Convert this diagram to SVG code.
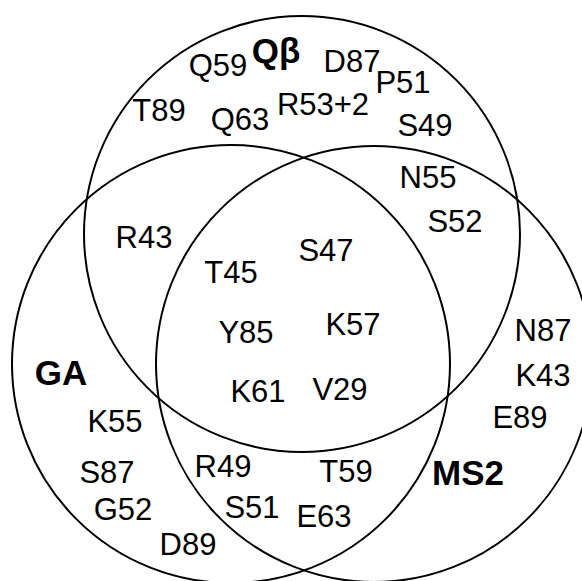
<svg xmlns="http://www.w3.org/2000/svg" width="582" height="581" viewBox="0 0 582 581">
<style>
.c{fill:none;stroke:#000;stroke-width:2}
.t{font-family:"Liberation Sans",Arial,sans-serif;font-size:31px;fill:#000;text-anchor:middle}
.n{font-family:"Liberation Sans",Arial,sans-serif;font-size:35px;font-weight:bold;fill:#000;text-anchor:middle}
</style>
<rect width="582" height="581" fill="#fff"/>
<g id="set-qbeta">
<circle class="c" cx="302" cy="234" r="218"/>
<text class="n" x="276" y="63" font-size="34">Qβ</text>
</g>
<g id="set-ga">
<circle class="c" cx="231" cy="364" r="219"/>
<text class="n" x="61" y="385">GA</text>
</g>
<g id="set-ms2">
<circle class="c" cx="374" cy="364" r="218"/>
<text class="n" x="468" y="485">MS2</text>
</g>
<g id="labels">
<text class="t" x="218" y="76">Q59</text>
<text class="t" x="352" y="72">D87</text>
<text class="t" x="403" y="93">P51</text>
<text class="t" x="323" y="115">R53+2</text>
<text class="t" x="240" y="130">Q63</text>
<text class="t" x="159" y="121">T89</text>
<text class="t" x="425" y="136">S49</text>
<text class="t" x="428" y="188">N55</text>
<text class="t" x="455" y="232">S52</text>
<text class="t" x="144" y="248">R43</text>
<text class="t" x="326" y="261">S47</text>
<text class="t" x="231" y="283">T45</text>
<text class="t" x="246" y="343">Y85</text>
<text class="t" x="353" y="335">K57</text>
<text class="t" x="543" y="341">N87</text>
<text class="t" x="543" y="386">K43</text>
<text class="t" x="258" y="402">K61</text>
<text class="t" x="340" y="400">V29</text>
<text class="t" x="115" y="432">K55</text>
<text class="t" x="520" y="428">E89</text>
<text class="t" x="223" y="477">R49</text>
<text class="t" x="346" y="482">T59</text>
<text class="t" x="107" y="483">S87</text>
<text class="t" x="252" y="518">S51</text>
<text class="t" x="324" y="527">E63</text>
<text class="t" x="123" y="520">G52</text>
<text class="t" x="188" y="555">D89</text>
</g>
</svg>
